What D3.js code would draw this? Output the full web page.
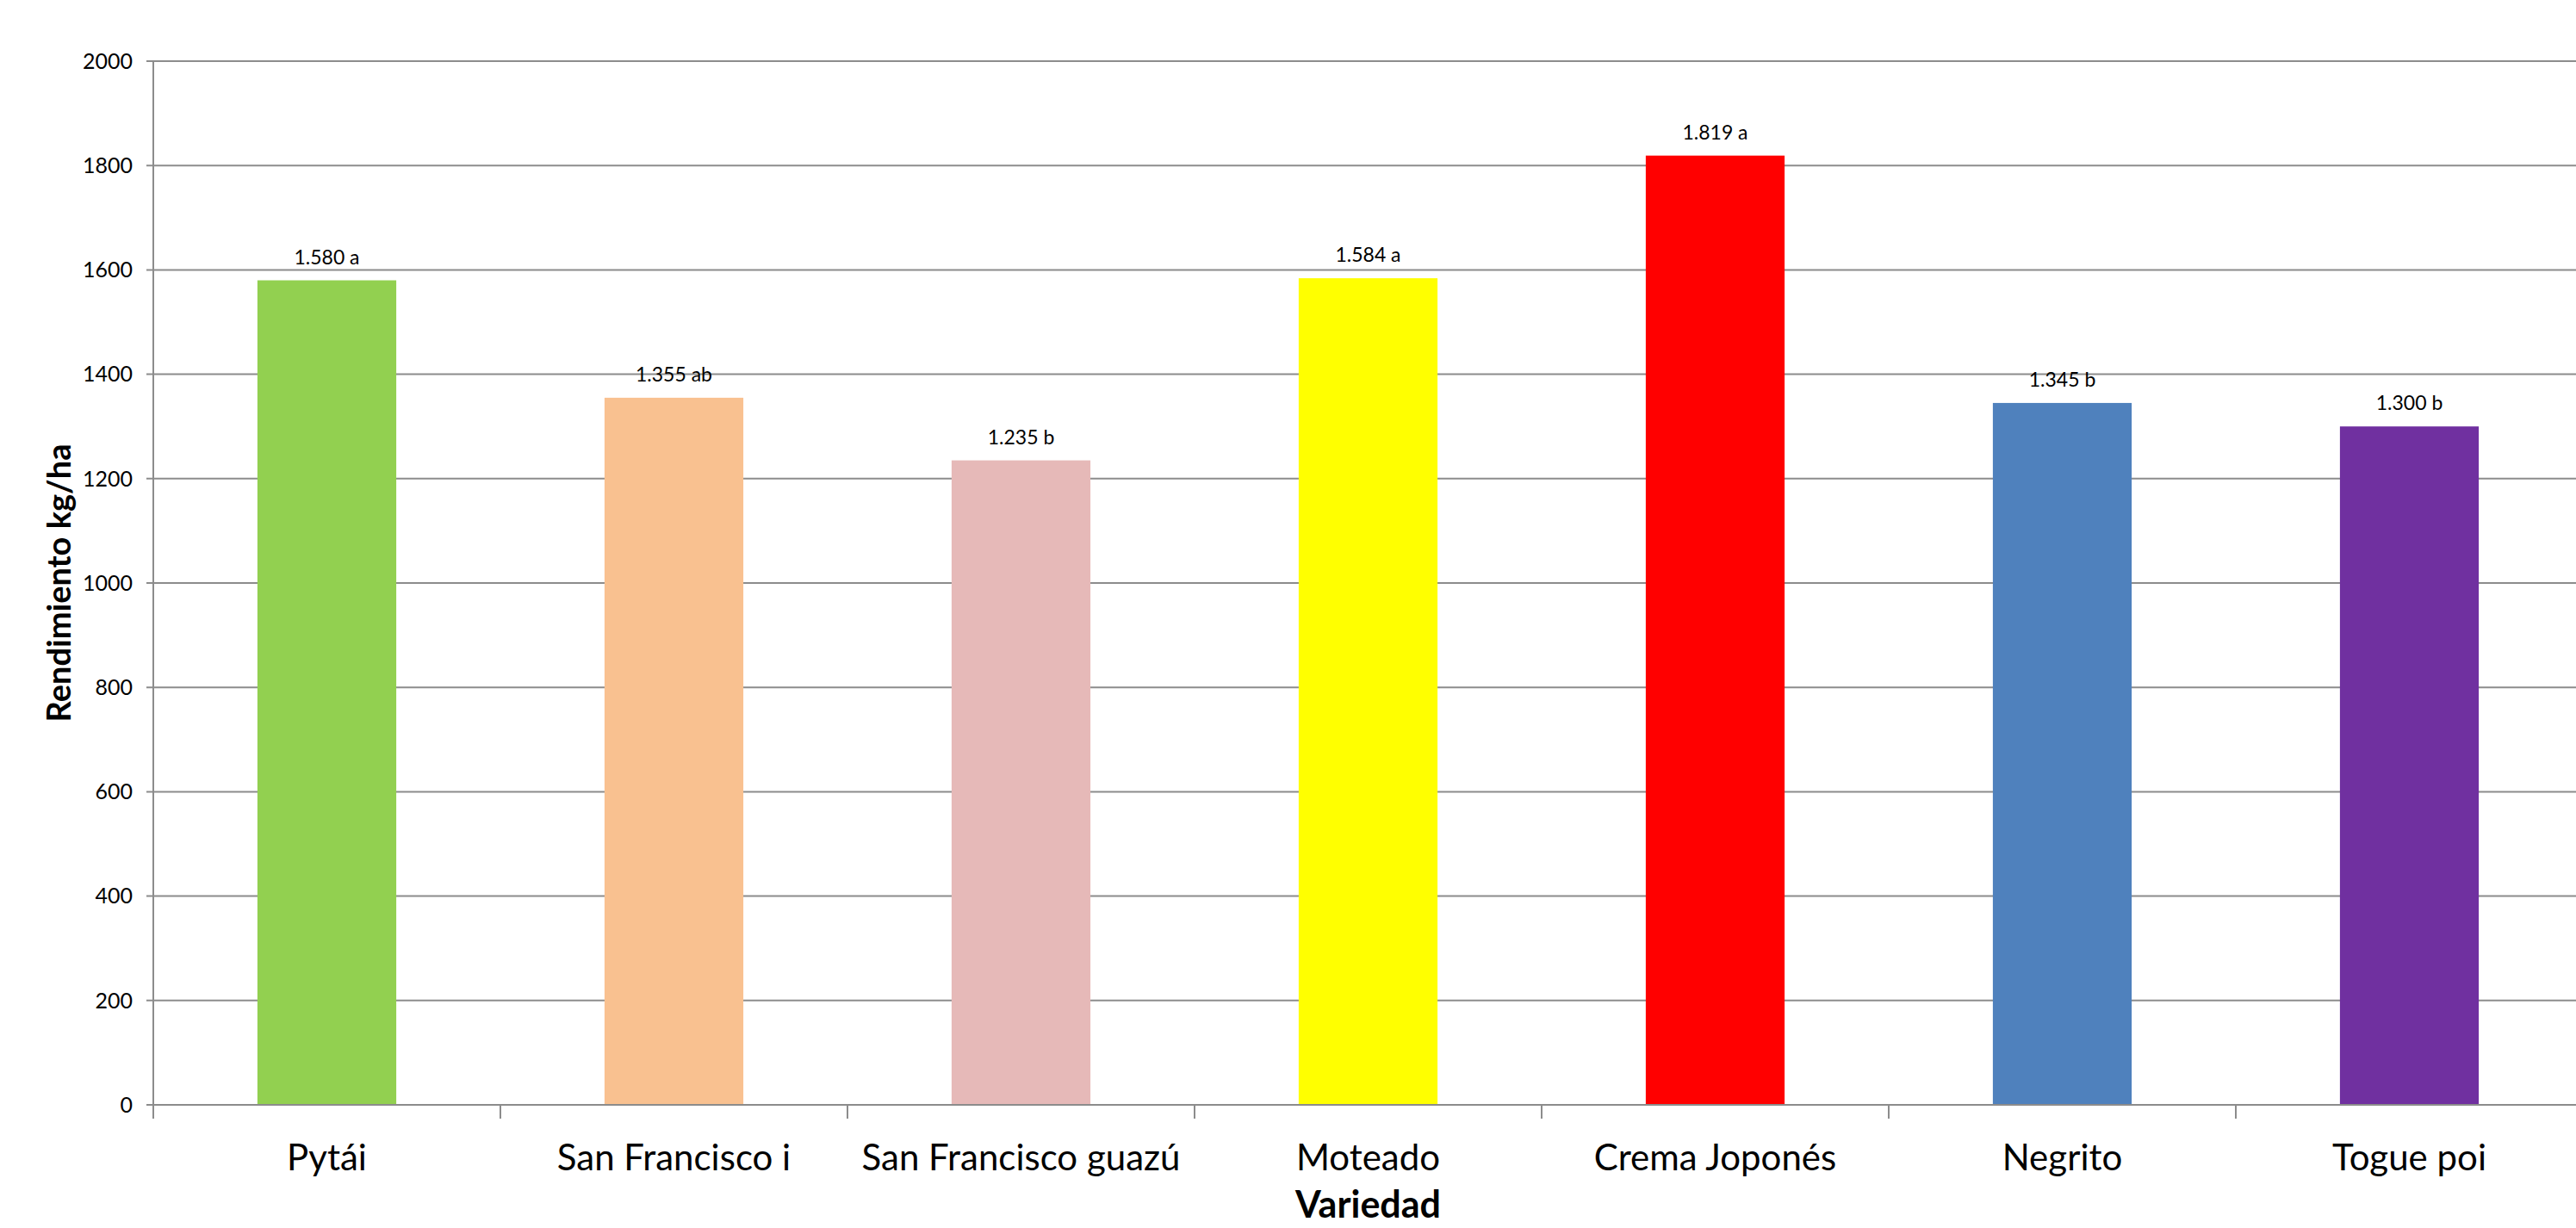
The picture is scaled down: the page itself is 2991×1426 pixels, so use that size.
<!DOCTYPE html>
<html>
<head>
<meta charset="utf-8">
<script src="https://cdnjs.cloudflare.com/ajax/libs/d3/7.8.5/d3.min.js"></script>
<style>
  html, body { margin: 0; padding: 0; background: #fff; }
  svg { display: block; }
</style>
</head>
<body>
<div id="chart"></div>
<script>
var categories = ['Pytái', 'San Francisco i', 'San Francisco guazú', 'Moteado', 'Crema Joponés', 'Negrito', 'Togue poi'];
var values = [1580, 1355, 1235, 1584, 1819, 1345, 1300];
var letters = ['a', 'ab', 'b', 'a', 'a', 'b', 'b'];
var colors = ['#92D050', '#F9C190', '#E6B9B8', '#FFFF00', '#FF0000', '#4F81BD', '#7030A0'];
var yTicks = [0, 200, 400, 600, 800, 1000, 1200, 1400, 1600, 1800, 2000];

var width = 2991, height = 1426;
var plotLeft = 178, plotTop = 71, plotBottom = 1283;
var step = 403;
var plotRight = plotLeft + step * categories.length;

var fmt = d3.formatLocale({ decimal: ',', thousands: '.', grouping: [3], currency: ['', ''] }).format(',');

var svg = d3.select('#chart')
  .append('svg')
  .attr('width', width)
  .attr('height', height)
  .attr('font-family', 'Lato, sans-serif');

var x = d3.scaleBand()
  .domain(categories)
  .range([plotLeft, plotRight])
  .paddingInner(0.6)
  .paddingOuter(0.3);

var y = d3.scaleLinear()
  .domain([0, 2000])
  .range([plotBottom, plotTop]);

// gridlines
svg.append('g')
  .selectAll('line')
  .data(yTicks)
  .enter().append('line')
    .attr('x1', plotLeft - 8)
    .attr('x2', plotRight)
    .attr('y1', d => y(d))
    .attr('y2', d => y(d))
    .attr('stroke', '#8c8c8c')
    .attr('stroke-width', 2);

// y tick labels
svg.append('g')
  .selectAll('text')
  .data(yTicks)
  .enter().append('text')
    .attr('x', 154)
    .attr('y', d => y(d))
    .attr('dy', '0.35em')
    .attr('text-anchor', 'end')
    .attr('font-size', 25)
    .attr('fill', '#000')
    .text(d => d);

// bars
svg.append('g')
  .selectAll('rect')
  .data(values)
  .enter().append('rect')
    .attr('x', (d, i) => x(categories[i]))
    .attr('width', x.bandwidth())
    .attr('y', d => y(d))
    .attr('height', d => y(0) - y(d))
    .attr('fill', (d, i) => colors[i]);

// y axis line
svg.append('line')
  .attr('x1', plotLeft).attr('x2', plotLeft)
  .attr('y1', plotTop).attr('y2', plotBottom + 16)
  .attr('stroke', '#8c8c8c')
  .attr('stroke-width', 2);

// x axis line
svg.append('line')
  .attr('x1', plotLeft).attr('x2', plotRight)
  .attr('y1', plotBottom).attr('y2', plotBottom)
  .attr('stroke', '#8c8c8c')
  .attr('stroke-width', 2);

// x ticks at category boundaries
svg.append('g')
  .selectAll('line')
  .data(categories)
  .enter().append('line')
    .attr('x1', d => x(d) - x.step() * 0.3)
    .attr('x2', d => x(d) - x.step() * 0.3)
    .attr('y1', plotBottom)
    .attr('y2', plotBottom + 16)
    .attr('stroke', '#8c8c8c')
    .attr('stroke-width', 2);

// category labels
svg.append('g')
  .selectAll('text')
  .data(categories)
  .enter().append('text')
    .attr('x', d => x(d) + x.bandwidth() / 2)
    .attr('y', 1359)
    .attr('text-anchor', 'middle')
    .attr('font-size', 42)
    .attr('fill', '#000')
    .text(d => d);

// value labels
svg.append('g')
  .selectAll('text')
  .data(values)
  .enter().append('text')
    .attr('x', (d, i) => x(categories[i]) + x.bandwidth() / 2)
    .attr('y', d => y(d) - 19)
    .attr('text-anchor', 'middle')
    .attr('font-size', 23)
    .attr('fill', '#000')
    .text((d, i) => fmt(d) + ' ' + letters[i]);

// axis titles
svg.append('text')
  .attr('transform', 'translate(82,' + ((plotTop + plotBottom) / 2) + ') rotate(-90)')
  .attr('text-anchor', 'middle')
  .attr('font-size', 38)
  .attr('font-weight', 'bold')
  .attr('fill', '#000')
  .text('Rendimiento kg/ha');

svg.append('text')
  .attr('x', (plotLeft + plotRight) / 2)
  .attr('y', 1414)
  .attr('text-anchor', 'middle')
  .attr('font-size', 43)
  .attr('font-weight', 'bold')
  .attr('fill', '#000')
  .text('Variedad');
</script>
</body>
</html>
